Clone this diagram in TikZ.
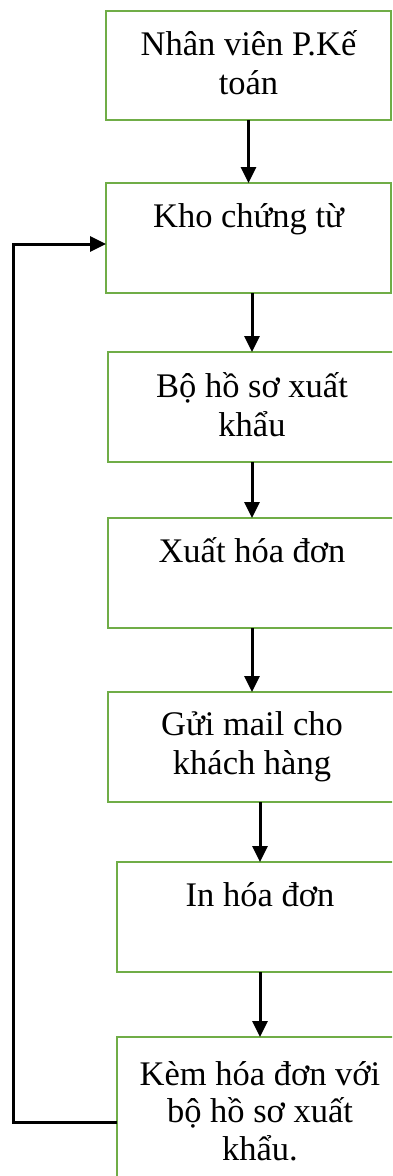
\documentclass[tikz,border=0pt]{standalone}
\usepackage{fontspec}
\setmainfont{Liberation Serif}
\usetikzlibrary{arrows.meta}
\definecolor{boxgreen}{RGB}{112,173,71}
\begin{document}
\begin{tikzpicture}[
    x=1pt, y=-1pt,
    box/.style={rectangle, draw=boxgreen, line width=2.8pt, outer sep=0pt, minimum height=110pt},
    lbl/.style={anchor=base, align=center, inner sep=0pt, font=\fontsize{34.5}{39}\selectfont},
    arr/.style={-{Triangle[width=15pt, length=16pt]}, line width=3pt}
]
    \useasboundingbox (0,0) rectangle (392,1176);
    \clip (0,0) rectangle (392,1176);
    % khung
    \node[box, minimum width=285pt, minimum height=109pt] (b1) at (248.5,65.5) {};
    \node[box, minimum width=285pt] (b2) at (248.5,238) {};
    \node[box, minimum width=288pt] (b3) at (252,407) {};
    \node[box, minimum width=288pt] (b4) at (252,573) {};
    \node[box, minimum width=288pt] (b5) at (252,747) {};
    \node[box, minimum width=286pt] (b6) at (260,917) {};
    \node[box, minimum width=286pt, minimum height=170pt] (b7) at (260,1122) {};

    % chữ (base = dòng cuối)
    \node[lbl] (t1) at (248.5,94) {Nhân viên P.Kế\\toán};
    \node[lbl] (t2) at (248.5,227) {Kho chứng từ};
    \node[lbl] (t3) at (252,436) {Bộ hồ sơ xuất\\khẩu};
    \node[lbl] (t4) at (252,562) {Xuất hóa đơn};
    \node[lbl] (t5) at (252,774) {Gửi mail cho\\khách hàng};
    \node[lbl] (t6) at (260,906) {In hóa đơn};
    \node[lbl, font=\fontsize{34.5}{37.5}\selectfont] (t7) at (260,1160) {Kèm hóa đơn với\\bộ hồ sơ xuất\\khẩu.};

    % mũi tên
    \draw[arr] (b1.south -| t2) -- (b2.north -| t2);
    \draw[arr] (b2.south -| t3) -- (b3.north -| t3);
    \draw[arr] (b3.south -| t4) -- (b4.north -| t4);
    \draw[arr] (b4.south -| t5) -- (b5.north -| t5);
    \draw[arr] (b5.south -| t6) -- (b6.north -| t6);
    \draw[arr] (b6.south -| t7) -- (b7.north -| t7);

    % vòng lại
    \coordinate (back) at (13,1122);
    \draw[arr] (b7.west) -- (back) |- ([yshift=-6pt]b2.west);
\end{tikzpicture}
\end{document}
